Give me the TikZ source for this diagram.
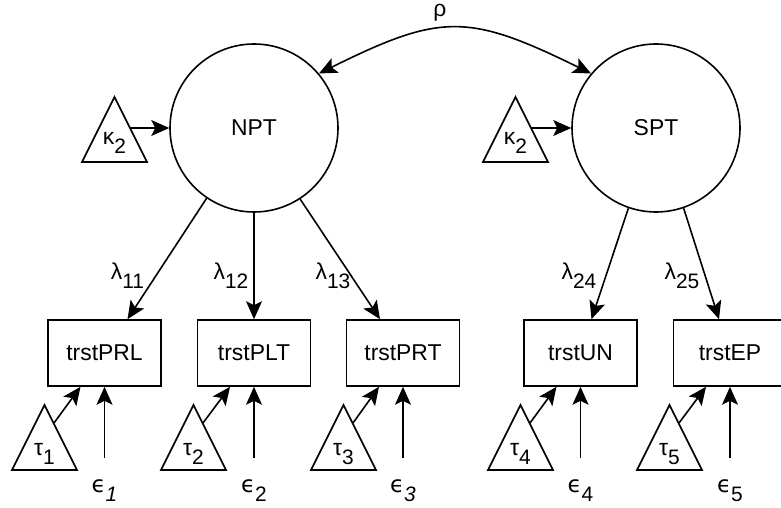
\documentclass[tikz,border=0pt]{standalone}
\usepackage{fontspec}
\setmainfont{Liberation Sans}
\newfontfamily\dvs{DejaVu Sans}
\usetikzlibrary{arrows.meta}
\newcommand\mysub[1]{\raisebox{-9bp}{\fontsize{21}{21}\selectfont #1}}
\newcommand\mytri[1]{\draw (#1) -- ++(-32.5,65) -- ++(65,0) -- cycle;}
\begin{document}
\begin{tikzpicture}[x=1bp,y=-1bp,
  font=\fontsize{23}{27}\selectfont,
  >={Stealth[length=18bp,width=16bp,inset=4bp]},
  line width=1.6bp,
  latent/.style={circle, draw, minimum size=168bp, inner sep=0pt},
  manifest/.style={draw, minimum width=113bp, minimum height=66bp, inner sep=0pt},
  lab/.style={anchor=base, inner sep=0pt}]
\useasboundingbox (0,0) rectangle (781,508);
\clip (0,0) rectangle (781,508);

% latent variables
\node[latent] (NPT) at (254,128) {NPT};
\node[latent] (SPT) at (656,128) {SPT};

% indicators
\node[manifest] (PRL) at (104.5,353) {trstPRL};
\node[manifest] (PLT) at (254,353) {trstPLT};
\node[manifest] (PRT) at (403,353) {trstPRT};
\node[manifest] (UN)  at (580.5,353) {trstUN};
\node[manifest] (EP)  at (730,353) {trstEP};

% kappa triangles
\coordinate (k1) at (114.5,97);
\coordinate (k2) at (515.5,97);
\mytri{k1}
\mytri{k2}
\node[lab] (lk1) at (114.5,145) {κ\mysub{2}};
\node[lab] (lk2) at (515.5,145) {κ\mysub{2}};
\draw[->] ([shift={(15.5,31)}]k1) -- (NPT.west);
\draw[->] ([shift={(15.5,31)}]k2) -- (SPT.west);

% covariance
\draw[<->] (NPT.40) .. controls (441,13) and (468,13) .. (SPT.140);
\node[inner sep=0pt] (rho) at (440,13) {ρ};

% loadings
\draw[->] (NPT.236.5) -- ([xshift=23bp]PRL.north);
\draw[->] (NPT.south) -- (PLT.north);
\draw[->] (NPT.303.5) -- ([xshift=-23bp]PRT.north);
\draw[->] (SPT.251) -- ([xshift=11bp]UN.north);
\draw[->] (SPT.289) -- ([xshift=-11bp]EP.north);
\node[lab] (l11) at (127.5,280) {λ\mysub{11}};
\node[lab] (l12) at (231,280) {λ\mysub{12}};
\node[lab] (l13) at (333,280) {λ\mysub{13}};
\node[lab] (l24) at (579,280) {λ\mysub{24}};
\node[lab] (l25) at (682,280) {λ\mysub{25}};

% intercept triangles
\coordinate (t1) at (44.5,405);
\coordinate (t2) at (193.5,405);
\coordinate (t3) at (343.5,405);
\coordinate (t4) at (520.5,405);
\coordinate (t5) at (669.5,405);
\mytri{t1}
\mytri{t2}
\mytri{t3}
\mytri{t4}
\mytri{t5}
\node[lab] (lt1) at (44.5,455) {τ\mysub{1}};
\node[lab] (lt2) at (193.5,455) {τ\mysub{2}};
\node[lab] (lt3) at (343.5,455) {τ\mysub{3}};
\node[lab] (lt4) at (520.5,455) {τ\mysub{4}};
\node[lab] (lt5) at (669.5,455) {τ\mysub{5}};
\draw[->] ([shift={(9.5,18)}]t1) -- ([xshift=-24bp]PRL.south);
\draw[->] ([shift={(9.5,18)}]t2) -- ([xshift=-24bp]PLT.south);
\draw[->] ([shift={(9.5,18)}]t3) -- ([xshift=-24bp]PRT.south);
\draw[->] ([shift={(9.5,18)}]t4) -- ([xshift=-24bp]UN.south);
\draw[->] ([shift={(9.5,18)}]t5) -- ([xshift=-24bp]EP.south);

% residuals
\coordinate (e1) at (104.5,458);
\coordinate (e2) at (254,458);
\coordinate (e3) at (403,458);
\coordinate (e4) at (580.5,458);
\coordinate (e5) at (730,458);
\draw[->] (e1) -- (PRL.south);
\draw[->] (e2) -- (PLT.south);
\draw[->] (e3) -- (PRT.south);
\draw[->] (e4) -- (UN.south);
\draw[->] (e5) -- (EP.south);
\node[lab] (le1) at (104.5,492) {{\dvs ϵ}\mysub{\itshape 1}};
\node[lab] (le2) at (254,492) {{\dvs ϵ}\mysub{2}};
\node[lab] (le3) at (403,492) {{\dvs ϵ}\mysub{\itshape 3}};
\node[lab] (le4) at (580.5,492) {{\dvs ϵ}\mysub{4}};
\node[lab] (le5) at (730,492) {{\dvs ϵ}\mysub{5}};
\end{tikzpicture}
\end{document}
